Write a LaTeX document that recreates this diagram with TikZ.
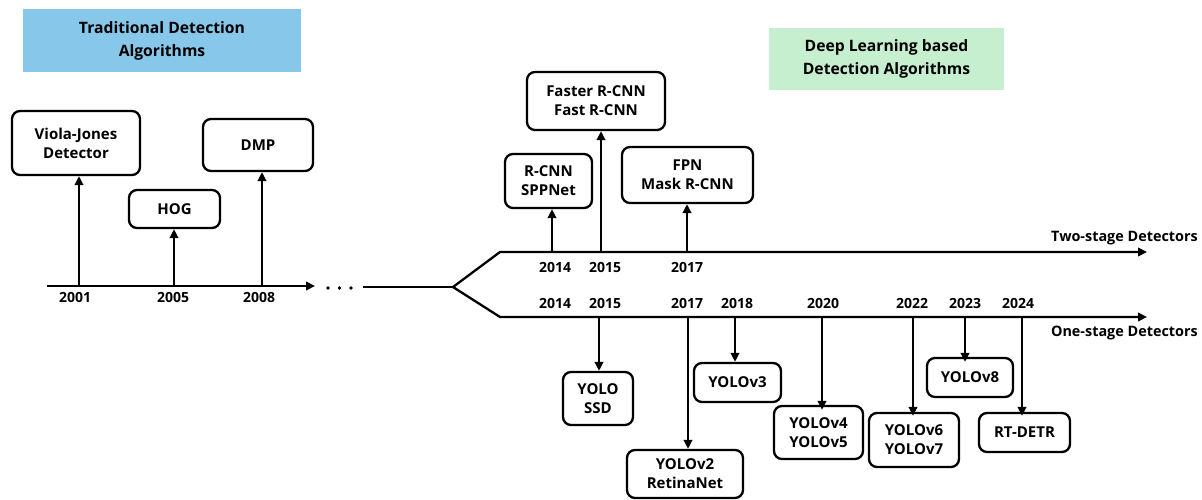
\documentclass[tikz,border=0pt]{standalone}
\usepackage{fontspec}
\setmainfont{Open Sans}
\usetikzlibrary{arrows.meta,calc}
\definecolor{tradblue}{HTML}{86C7EA}
\definecolor{dlgreen}{HTML}{C6EFCF}
\tikzset{
  box/.style={draw=black, line width=2.3pt, rounded corners=8pt, align=center, inner sep=0pt,
              font=\fontsize{15}{19}\selectfont\bfseries},
  title/.style={inner sep=0pt, align=center, font=\fontsize{15.7}{23}\selectfont\bfseries},
  yr/.style={font=\fontsize{14}{18}\selectfont\bfseries, inner sep=0pt},
  axis/.style={line width=2.3pt},
  arr/.style={line width=2.2pt, -{Triangle[length=9pt,width=8.5pt]}},
  lab/.style={font=\fontsize{14.4}{18}\selectfont\bfseries, inner sep=0pt, anchor=east}
}
\begin{document}
\begin{tikzpicture}[x=1pt,y=-1pt]
\useasboundingbox (0,0) rectangle (1202,500);
% titles
\node[title, fill=tradblue, minimum width=278pt, minimum height=63pt] (t1) at (162,40.5) {Traditional Detection\\Algorithms};
\node[title, fill=dlgreen, minimum width=235pt, minimum height=62pt] (t2) at (886.5,59) {Deep Learning based\\Detection Algorithms};

% left timeline
\coordinate (ls) at (47,286);
\coordinate (le) at (315,286);
\draw[arr] (ls) -- (le);
\coordinate (t2001) at (79,286);
\coordinate (t2005) at (174,286);
\coordinate (t2008) at (262,286);
\node[yr] (y2001) at (75,297) {2001};
\node[yr] (y2005) at (173,297) {2005};
\node[yr] (y2008) at (259,297) {2008};

\node[box, minimum width=128pt, minimum height=64pt] (vj) at (76,143) {Viola-Jones\\Detector};
\node[box, minimum width=91pt, minimum height=38pt] (hog) at (174.5,209) {HOG};
\node[box, minimum width=110pt, minimum height=52pt] (dmp) at (258,145) {DMP};
\draw[arr] (t2001) -- (t2001 |- vj.south);
\draw[arr] (t2005) -- (t2005 |- hog.south);
\draw[arr] (t2008) -- (t2008 |- dmp.south);

% dots
\fill (328,288) circle (1.8pt);
\fill (339.5,288) circle (1.8pt);
\fill (351,288) circle (1.8pt);

% branching
\coordinate (cs) at (363,287);
\coordinate (br) at (453,287);
\coordinate (ub) at (500,252);
\coordinate (ue) at (1147,252);
\coordinate (db) at (500,317);
\coordinate (de) at (1147,317);
\draw[axis] (cs) -- (br);
\draw[axis, -{Triangle[length=9pt,width=8.5pt]}, line join=miter] (br) -- (ub) -- (ue);
\draw[axis, -{Triangle[length=9pt,width=8.5pt]}, line join=miter] (br) -- (db) -- (de);
\node[lab] (two) at (1198,238) {Two-stage Detectors};
\node[lab] (one) at (1198,333) {One-stage Detectors};

% two-stage
\node[yr] at (555,267) {2014};
\node[yr] at (605,267) {2015};
\node[yr] at (687,267) {2017};
\coordinate (u2014) at (552,252);
\coordinate (u2015) at (601,252);
\coordinate (u2017) at (687,252);
\node[box, minimum width=87pt, minimum height=54pt] (rcnn) at (548.5,181) {R-CNN\\SPPNet};
\node[box, minimum width=138pt, minimum height=58pt] (faster) at (596,101) {Faster R-CNN\\Fast R-CNN};
\node[box, minimum width=131pt, minimum height=56pt] (fpn) at (687.5,175) {FPN\\Mask R-CNN};
\draw[arr] (u2014) -- (u2014 |- rcnn.south);
\draw[arr] (u2015) -- (u2015 |- faster.south);
\draw[arr] (u2017) -- (u2017 |- fpn.south);

% one-stage
\node[yr] at (555,303) {2014};
\node[yr] at (605,303) {2015};
\node[yr] at (687,303) {2017};
\node[yr] at (737,303) {2018};
\node[yr] at (823,303) {2020};
\node[yr] at (912,303) {2022};
\node[yr] at (965,303) {2023};
\node[yr] at (1018,303) {2024};
\coordinate (d2015) at (599,317);
\coordinate (d2017) at (688,317);
\coordinate (d2018) at (735,317);
\coordinate (d2020) at (822,317);
\coordinate (d2022) at (913,317);
\coordinate (d2023) at (965,317);
\coordinate (d2024) at (1022,317);
\node[box, minimum width=70pt, minimum height=53pt] (yolo) at (598,398.5) {YOLO\\SSD};
\node[box, minimum width=116pt, minimum height=48pt] (yolo2) at (685,474) {YOLOv2\\RetinaNet};
\node[box, minimum width=87pt, minimum height=39pt] (yolo3) at (737.5,382.5) {YOLOv3};
\node[box, minimum width=89pt, minimum height=53pt] (yolo4) at (818.5,432.5) {YOLOv4\\YOLOv5};
\node[box, minimum width=90pt, minimum height=54pt] (yolo6) at (914,440) {YOLOv6\\YOLOv7};
\node[box, minimum width=86pt, minimum height=39pt] (yolo8) at (970,377.5) {YOLOv8};
\node[box, minimum width=91pt, minimum height=39pt] (rtdetr) at (1024.5,432.5) {RT-DETR};
\draw[arr] (d2015) -- (d2015 |- yolo.north);
\draw[arr] (d2017) -- (d2017 |- yolo2.north);
\draw[arr] (d2018) -- (d2018 |- yolo3.north);
\draw[arr] (d2020) -- ([yshift=-5pt]d2020 |- yolo4.north);
\draw[arr] (d2022) -- ([yshift=-4pt]d2022 |- yolo6.north);
\draw[arr] (d2023) -- ([yshift=-5pt]d2023 |- yolo8.north);
\draw[arr] (d2024) -- ([yshift=-4pt]d2024 |- rtdetr.north);
\end{tikzpicture}
\end{document}
